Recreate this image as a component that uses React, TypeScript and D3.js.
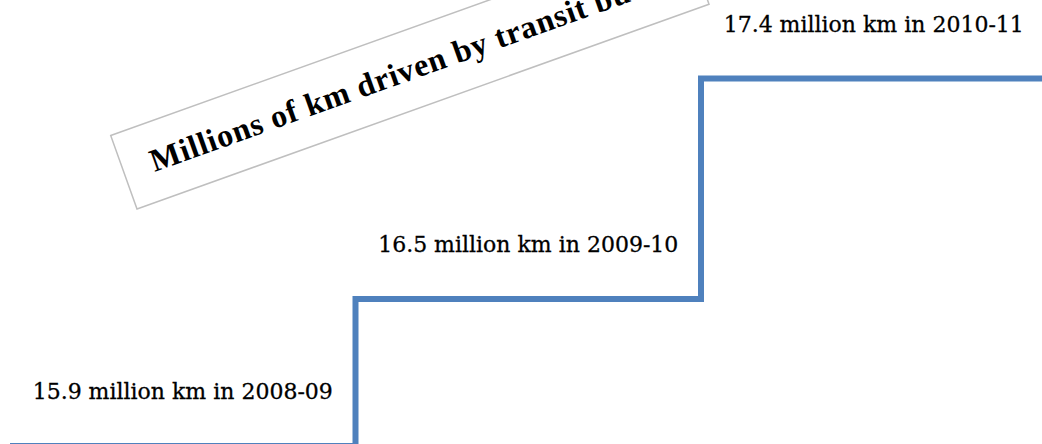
import * as d3 from "d3";
import { useEffect, useRef } from "react";

const periods = ["2008-09", "2009-10", "2010-11"];
const values = [15.9, 16.5, 17.4];
const title = "Millions of km driven by transit buses";

const App = () => {
  const ref = useRef<SVGSVGElement>(null);

  useEffect(() => {
    const svg = d3.select(ref.current);
    const width = 1042;
    const height = 444;
    svg.selectAll("*").remove();
    svg.attr("width", width).attr("height", height);

    const x = d3.scaleLinear().domain([0, periods.length]).range([10, 1046.5]);
    const y = d3.scaleLinear().domain([15.9, 17.4]).range([446, 78.5]);

    // step points: each period starts at its index, last one carried to the end
    const pts: [number, number][] = values.map((v, i) => [i, v]);
    pts.push([periods.length, values[values.length - 1]]);

    const line = d3
      .line<[number, number]>()
      .x((d) => x(d[0]))
      .y((d) => y(d[1]))
      .curve(d3.curveStepAfter);

    svg
      .append("path")
      .attr("d", line(pts))
      .attr("fill", "none")
      .attr("stroke", "#4f81bd")
      .attr("stroke-width", 6);

    svg
      .selectAll("text.lbl")
      .data(values)
      .enter()
      .append("text")
      .attr("class", "lbl")
      .attr("x", (_, i) => (x(i) + x(i + 1)) / 2)
      .attr("y", (d) => y(d) - 47)
      .attr("text-anchor", "middle")
      .attr("font-family", "'DejaVu Serif', serif")
      .attr("font-size", 22)
      .attr("fill", "#000")
      .attr("stroke", "#000")
      .attr("stroke-width", 0.3)
      .text((d, i) => `${d} million km in ${periods[i]}`);

    // rotated title box
    const boxH = 78;
    const pad = 29;
    const g = svg.append("g").attr("transform", "translate(137,209) rotate(-19.7)");
    const rect = g
      .append("rect")
      .attr("x", 0)
      .attr("y", -boxH)
      .attr("height", boxH)
      .attr("fill", "#fff")
      .attr("stroke", "#bfbfbf")
      .attr("stroke-width", 1.5);
    const t = g
      .append("text")
      .attr("x", pad)
      .attr("y", -pad)
      .attr("font-family", "'Liberation Serif', serif")
      .attr("font-weight", "bold")
      .attr("font-size", 32)
      .attr("letter-spacing", 0.8)
      .attr("fill", "#000")
      .text(title);
    const tw = (t.node() as SVGTextElement).getComputedTextLength();
    rect.attr("width", tw + pad * 2);
  }, []);

  return (
    <svg
      ref={ref}
      style={{ position: "absolute", left: 0, top: 0, display: "block" }}
    ></svg>
  );
};

export default App;
